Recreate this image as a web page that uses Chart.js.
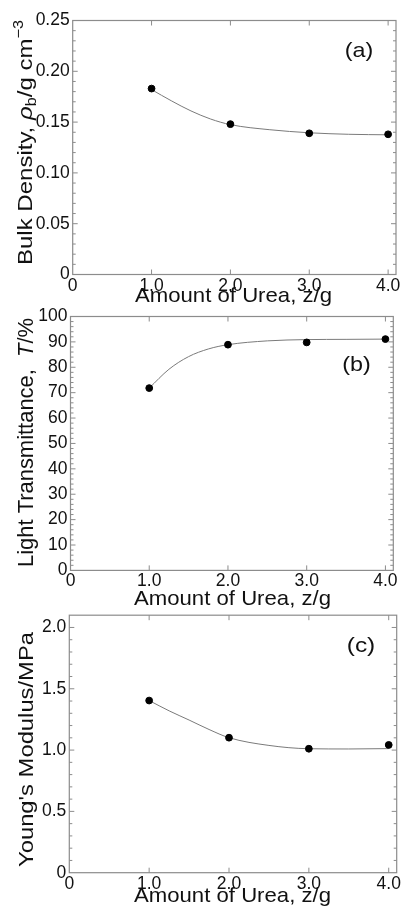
<!DOCTYPE html>
<html lang="en">
<head>
<meta charset="UTF-8">
<title>Urea amount – bulk density, transmittance, modulus</title>
<script src="https://cdn.jsdelivr.net/npm/chart.js"></script>
<style>
  html, body { margin: 0; padding: 0; background: #fff; }
  #wrap { position: relative; width: 402px; height: 916px; }
  canvas { position: absolute; left: 0; top: 0; }
</style>
</head>
<body>
<div id="wrap">
  <canvas id="chartA" width="402" height="916"></canvas>
  <canvas id="chartB" width="402" height="916"></canvas>
  <canvas id="chartC" width="402" height="916"></canvas>
</div>
<script>
// amount of urea, z/g
const urea = [1.0, 2.0, 3.0, 4.0];
const fitX = [1.0, 1.25, 1.5, 1.75, 2.0, 2.5, 3.0, 3.5, 4.0];

// (a) bulk density, g cm-3
const bulkDensity = [0.183, 0.148, 0.139, 0.138];
const bulkDensityFit = [0.182, 0.171, 0.161, 0.153, 0.1475, 0.1425, 0.1395, 0.138, 0.1375];
// (b) light transmittance, %
const transmittance = [71.8, 88.9, 89.8, 91.1];
const transmittanceFit = [71.8, 79.2, 84.2, 87.2, 88.9, 90.4, 90.9, 91.0, 91.1];
// (c) Young's modulus, MPa
const youngsModulus = [1.404, 1.101, 1.011, 1.042];
const youngsModulusFit = [1.404, 1.320, 1.245, 1.168, 1.101, 1.038, 1.011, 1.009, 1.012];

// tick values and labels
const xTicks = [0, 1, 2, 3, 4];
const xTickLabels = ['0', '1.0', '2.0', '3.0', '4.0'];
const densityTicks = [0, 0.05, 0.10, 0.15, 0.20, 0.25];
const densityTickLabels = ['0', '0.05', '0.10', '0.15', '0.20', '0.25'];
const transTicks = [0, 10, 20, 30, 40, 50, 60, 70, 80, 90, 100];
const transTickLabels = ['0', '10', '20', '30', '40', '50', '60', '70', '80', '90', '100'];
const modulusTicks = [0, 0.5, 1.0, 1.5, 2.0];
const modulusTickLabels = ['0', '0.5', '1.0', '1.5', '2.0'];

const FONT = '"Liberation Sans", Arial, Helvetica, sans-serif';
const FRAME = '#8c8c8c';

const xTitle = [{ t: 'Amount of Urea, z/g' }];

const panels = [
  {
    canvas: 'chartA', points: bulkDensity, fit: bulkDensityFit,
    yMax: 0.25, yTicks: densityTicks, yLabels: densityTickLabels, minor: 0.01,
    area: { left: 72.7, right: 396, top: 20.5, bottom: 274.5 }, xPad: 1,
    tag: '(a)', tagPos: [359, 57.2],
    yTitle: [{ t: 'Bulk Density, ' }, { t: 'ρ', it: true }, { t: 'b', sub: true }, { t: '/g cm' }, { t: '−3', sup: true }],
    yTitlePos: [31.7, 142.5], yTitleLen: 245, yTitleSize: 21,
    xTitlePos: [233.5, 301.7]
  },
  {
    canvas: 'chartB', points: transmittance, fit: transmittanceFit,
    yMax: 100, yTicks: transTicks, yLabels: transTickLabels, minor: 2,
    area: { left: 70.5, right: 393.3, top: 316.5, bottom: 570.4 }, xPad: 0,
    tag: '(b)', tagPos: [356.5, 370.5],
    yTitle: [{ t: 'Light Transmittance,  ' }, { t: 'T', it: true }, { t: '/%' }],
    yTitlePos: [33.3, 442.5], yTitleLen: 249, yTitleSize: 22,
    xTitlePos: [232.5, 605]
  },
  {
    canvas: 'chartC', points: youngsModulus, fit: youngsModulusFit,
    yMax: 2.1, yTicks: modulusTicks, yLabels: modulusTickLabels, minor: 0.1,
    area: { left: 69.3, right: 396.7, top: 615.2, bottom: 872.7 }, xPad: 1,
    tag: '(c)', tagPos: [361, 651.5],
    yTitle: [{ t: "Young's Modulus/MPa" }],
    yTitlePos: [33.3, 749.5], yTitleLen: 235, yTitleSize: 21,
    xTitlePos: [232.5, 901.7]
  }
];

function segFont(seg, size) {
  const s = (seg.sub || seg.sup) ? size * 0.68 : size;
  return (seg.it ? 'italic ' : '') + s + 'px ' + FONT;
}

// draws a line of mixed text centred on (0,0), stretched to a target length
function drawRich(ctx, segs, size, targetLen) {
  let total = 0;
  const widths = segs.map(seg => {
    ctx.font = segFont(seg, size);
    const w = ctx.measureText(seg.t).width;
    total += w;
    return w;
  });
  const k = targetLen ? targetLen / total : 1;
  ctx.scale(k, 1);
  let x = -total / 2;
  ctx.textAlign = 'left';
  ctx.textBaseline = 'alphabetic';
  segs.forEach((seg, i) => {
    ctx.font = segFont(seg, size);
    let dy = 0;
    if (seg.sub) dy = size * 0.22;
    if (seg.sup) dy = -size * 0.42;
    ctx.fillText(seg.t, x, dy);
    x += widths[i];
  });
}

function makeChart(p) {
  const a = p.area;
  const yStep = p.yTicks[1] - p.yTicks[0];

  const framePlugin = {
    id: 'frameAndTitles',
    afterDraw(chart) {
      const { ctx, chartArea: ca, scales: { x, y } } = chart;
      ctx.save();
      ctx.strokeStyle = FRAME;
      ctx.lineWidth = 1.2;
      ctx.strokeRect(ca.left, ca.top, ca.right - ca.left, ca.bottom - ca.top);

      // inward ticks on all four sides
      ctx.lineWidth = 1;
      ctx.beginPath();
      xTicks.forEach(v => {
        const px = x.getPixelForValue(v);
        if (px <= ca.left + 1) return;
        ctx.moveTo(px, ca.bottom); ctx.lineTo(px, ca.bottom - 5);
        ctx.moveTo(px, ca.top); ctx.lineTo(px, ca.top + 5);
      });
      const n = Math.round(p.yMax / p.minor);
      for (let i = 1; i < n + 1; i++) {
        const v = i * p.minor;
        if (v > p.yMax + 1e-9) break;
        const r = v / yStep;
        const major = Math.abs(r - Math.round(r)) < 1e-6;
        const len = major ? 5 : 3;
        const py = y.getPixelForValue(v);
        if (py <= ca.top + 0.5) continue;
        ctx.moveTo(ca.left, py); ctx.lineTo(ca.left + len, py);
        ctx.moveTo(ca.right, py); ctx.lineTo(ca.right - len, py);
      }
      ctx.stroke();

      ctx.fillStyle = '#111';
      // x title
      ctx.save();
      ctx.translate(p.xTitlePos[0], p.xTitlePos[1]);
      drawRich(ctx, xTitle, 21, 197);
      ctx.restore();
      // y title
      ctx.save();
      ctx.translate(p.yTitlePos[0], p.yTitlePos[1]);
      ctx.rotate(-Math.PI / 2);
      drawRich(ctx, p.yTitle, p.yTitleSize, p.yTitleLen);
      ctx.restore();
      // panel tag
      ctx.save();
      ctx.translate(p.tagPos[0], p.tagPos[1]);
      drawRich(ctx, [{ t: p.tag }], 21, 28.5);
      ctx.restore();

      ctx.restore();
    }
  };

  return new Chart(document.getElementById(p.canvas), {
    type: 'scatter',
    data: {
      datasets: [
        {
          label: 'measured',
          data: urea.map((u, i) => ({ x: u, y: p.points[i] })),
          backgroundColor: '#000',
          borderColor: '#000',
          pointRadius: 3.4,
          pointHoverRadius: 3.4,
          showLine: false
        },
        {
          label: 'fit',
          type: 'line',
          data: fitX.map((u, i) => ({ x: u, y: p.fit[i] })),
          borderColor: '#7a7a7a',
          borderWidth: 1,
          pointRadius: 0,
          fill: false,
          cubicInterpolationMode: 'monotone'
        }
      ]
    },
    options: {
      responsive: false,
      animation: false,
      events: [],
      layout: { padding: { left: 0, top: a.top, right: 402 - a.right, bottom: 0 } },
      plugins: { legend: { display: false }, tooltip: { enabled: false } },
      scales: {
        x: {
          type: 'linear',
          min: 0, max: 4.1,
          grid: { display: false, drawTicks: false },
          border: { display: false },
          afterBuildTicks: s => { s.ticks = xTicks.map(v => ({ value: v })); },
          afterFit: s => {
            s.height = 916 - a.bottom;
            s.paddingLeft = 0; s.paddingRight = 0;
          },
          ticks: {
            autoSkip: false, maxRotation: 0, padding: p.xPad,
            color: '#111', font: { family: FONT, size: 17.5 },
            callback: (v, i) => xTickLabels[i]
          }
        },
        y: {
          type: 'linear',
          min: 0, max: p.yMax,
          grid: { display: false, drawTicks: false },
          border: { display: false },
          afterBuildTicks: s => { s.ticks = p.yTicks.map(v => ({ value: v })); },
          afterFit: s => {
            s.width = a.left;
            s.paddingTop = 0; s.paddingBottom = 0;
          },
          ticks: {
            autoSkip: false, padding: 3,
            color: '#111', font: { family: FONT, size: 17.5 },
            callback: (v, i) => p.yLabels[i]
          }
        }
      }
    },
    plugins: [framePlugin]
  });
}

panels.forEach(makeChart);
</script>
</body>
</html>
